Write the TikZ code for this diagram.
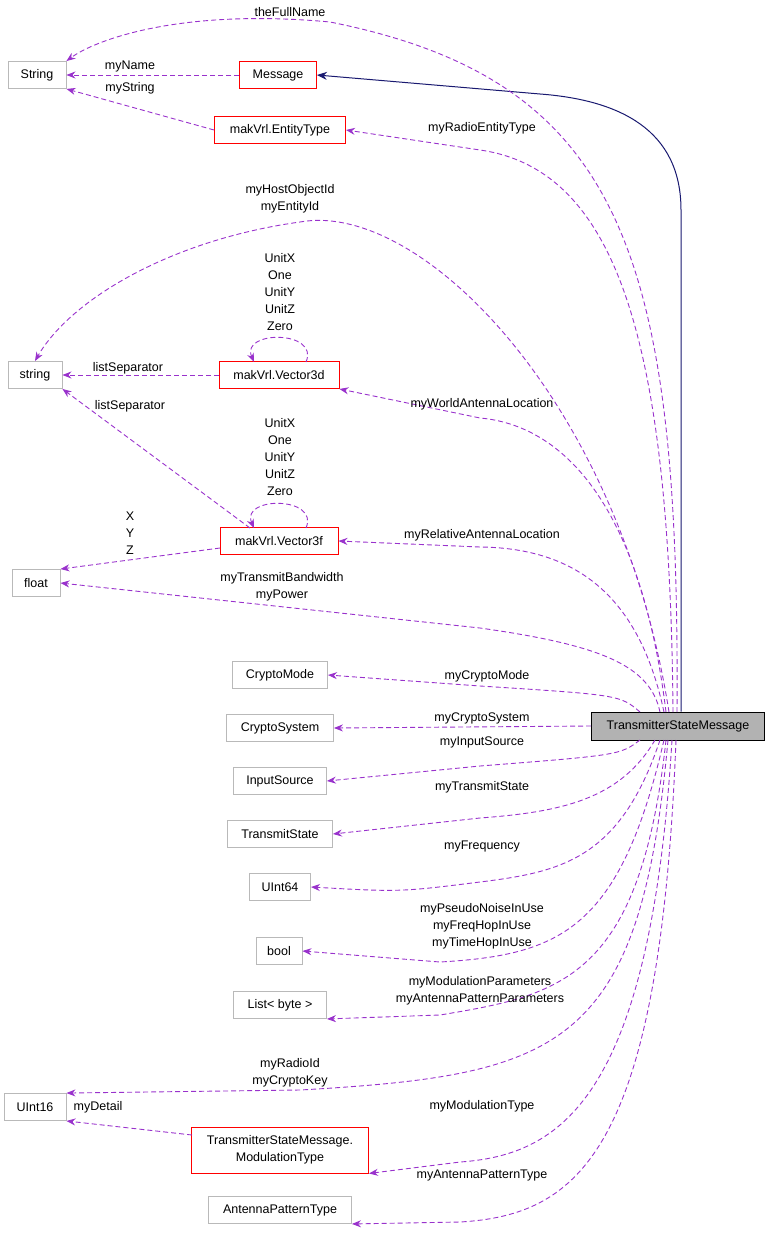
\documentclass[tikz,border=0pt]{standalone}
\usepackage{fontspec}
\setmainfont{Liberation Sans}
\usetikzlibrary{arrows.meta,positioning}
\definecolor{usec}{RGB}{153,50,204}
\definecolor{inhc}{RGB}{25,25,112}
\begin{document}
\begin{tikzpicture}[x=1pt,y=1pt,
    every node/.style={font=\fontsize{12.5}{17}\selectfont},
    cls/.style={draw=gray!55, line width=0.9pt, minimum height=27, inner sep=2pt, align=center},
    redcls/.style={cls, draw=red},
    lbl/.style={inner sep=0pt, align=center},
    use/.style={usec, line width=0.9pt, dash pattern=on 5pt off 3pt, -{Stealth[length=9pt,width=7pt]}},
    inh/.style={inhc, line width=1pt, -{Stealth[length=10pt,width=8pt]}}]

  \useasboundingbox (0,0) rectangle (771,-1237);

  % classes
  \node [cls, minimum width=58] (String) at (37,-75) {String};
  \node [redcls, minimum width=77] (Message) at (278,-75) {Message};
  \node [redcls, minimum width=131] (EntityType) at (280,-130) {makVrl.EntityType};
  \node [cls, minimum width=54] (string) at (35,-375) {string};
  \node [redcls, minimum width=120] (Vec3d) at (279,-375) {makVrl.Vector3d};
  \node [redcls, minimum width=118] (Vec3f) at (279,-541) {makVrl.Vector3f};
  \node [cls, minimum width=48] (float) at (36,-583) {float};
  \node [cls, minimum width=95] (CryptoMode) at (280,-675) {CryptoMode};
  \node [cls, minimum width=107] (CryptoSystem) at (280,-728) {CryptoSystem};
  \node [cls, minimum width=93] (InputSource) at (280,-781) {InputSource};
  \node [cls, minimum width=105] (TransmitState) at (280,-834) {TransmitState};
  \node [cls, minimum width=61] (UInt64) at (280,-887) {UInt64};
  \node [cls, minimum width=46] (bool) at (279,-951) {bool};
  \node [cls, minimum width=93] (ListByte) at (280,-1005) {List\textless{} byte \textgreater};
  \node [cls, minimum width=62] (UInt16) at (35,-1107) {UInt16};
  \node [redcls, minimum width=177, minimum height=46] (ModType) at (280,-1150)
    {TransmitterStateMessage.\\ModulationType};
  \node [cls, minimum width=143] (AntType) at (280,-1210) {AntennaPatternType};
  \node [draw, line width=0.9pt, fill=gray!60, minimum width=173, minimum height=28] (TSM) at (678,-726)
    {TransmitterStateMessage};

  % inheritance
  \draw [inh] (TSM.north -| 681,0) -- (681,-210)
    .. controls (681,-130) and (620,-100) .. (540,-94) -- (Message.east);

  % usage from TransmitterStateMessage
  \draw [use] (677,-712) .. controls (680,-250) and (620,-80) .. (330,-22)
    .. controls (180,-8) and (95,-40) .. (String.north east);
  \node [lbl] (nFull) at (290,-12) {theFullName};

  \draw [use] (673,-712) .. controls (670,-350) and (620,-170) .. (480,-150) -- (EntityType.east);
  \node [lbl] (nRadio) at (482,-128) {myRadioEntityType};

  \draw [use] (669,-712) .. controls (620,-400) and (420,-200) .. (300,-222)
    .. controls (170,-240) and (70,-300) .. (string.north);
  \node [lbl] (nHost) at (290,-199) {myHostObjectId\\myEntityId};

  \draw [use] (666,-712) .. controls (640,-500) and (560,-425) .. (480,-418) -- (Vec3d.south east);
  \node [lbl] (nWorld) at (482,-404) {myWorldAntennaLocation};

  \draw [use] (664,-712) .. controls (640,-600) and (580,-548) .. (480,-547) -- (Vec3f.east);
  \node [lbl] (nRel) at (482,-535) {myRelativeAntennaLocation};

  \draw [use] (660,-712) .. controls (650,-665) and (600,-645) .. (480,-628) -- (float.east);
  \node [lbl] (nPow) at (282,-587) {myTransmitBandwidth\\myPower};

  \draw [use] (640,-712) .. controls (620,-695) .. (480,-686) -- (CryptoMode.east);
  \node [lbl] (nCM) at (487,-676) {myCryptoMode};

  \draw [use] (TSM.west) -- (CryptoSystem.east);
  \node [lbl] (nCS) at (482,-718) {myCryptoSystem};

  \draw [use] (640,-740) .. controls (620,-755) .. (480,-766) -- (InputSource.east);
  \node [lbl] (nIS) at (482,-742) {myInputSource};

  \draw [use] (655,-740) .. controls (620,-800) and (560,-812) .. (480,-818) -- (TransmitState.east);
  \node [lbl] (nTS) at (482,-787) {myTransmitState};

  \draw [use] (660,-740) .. controls (620,-860) and (560,-872) .. (480,-882)
    .. controls (400,-892) .. (UInt64.east);
  \node [lbl] (nFr) at (482,-846) {myFrequency};

  \draw [use] (664,-740) .. controls (620,-930) and (560,-955) .. (440,-962) -- (bool.east);
  \node [lbl] (nHop) at (482,-926) {myPseudoNoiseInUse\\myFreqHopInUse\\myTimeHopInUse};

  \draw [use] (666,-740) .. controls (640,-980) and (560,-995) .. (440,-1015) -- (ListByte.south east);
  \node [lbl] (nMP) at (480,-991) {myModulationParameters\\myAntennaPatternParameters};

  \draw [use] (668,-740) .. controls (640,-1050) and (560,-1075) .. (300,-1090) -- (UInt16.north east);
  \node [lbl] (nRid) at (290,-1073) {myRadioId\\myCryptoKey};

  \draw [use] (672,-740) .. controls (650,-1100) and (560,-1155) .. (460,-1162) -- (ModType.south east);
  \node [lbl] (nMT) at (482,-1106) {myModulationType};

  \draw [use] (676,-740) .. controls (660,-1150) and (580,-1215) .. (460,-1222) -- (AntType.south east);
  \node [lbl] (nAT) at (482,-1175) {myAntennaPatternType};

  % other usages
  \draw [use] (Message.west) -- (String.east);
  \node [lbl] (nName) at (130,-66) {myName};
  \draw [use] (EntityType.west) -- (String.south east);
  \node [lbl] (nStr) at (130,-88) {myString};

  \draw [use] (Vec3d.west) -- (string.east);
  \node [lbl] (nLs1) at (128,-368) {listSeparator};
  \draw [use] (306,-362) .. controls (320,-330) and (240,-330) .. (254,-362);
  \node [lbl] (nConst1) at (280,-292) {UnitX\\One\\UnitY\\UnitZ\\Zero};

  \draw [use] (250,-528) -- (string.south east);
  \node [lbl] (nLs2) at (130,-406) {listSeparator};
  \draw [use] (306,-528) .. controls (320,-496) and (240,-496) .. (254,-528);
  \node [lbl] (nConst2) at (280,-457) {UnitX\\One\\UnitY\\UnitZ\\Zero};

  \draw [use] (220,-548) -- (float.north east);
  \node [lbl] (nXYZ) at (130,-533) {X\\Y\\Z};

  \draw [use] (192,-1135) -- (UInt16.south east);
  \node [lbl] (nDet) at (98,-1107) {myDetail};
\end{tikzpicture}
\end{document}
